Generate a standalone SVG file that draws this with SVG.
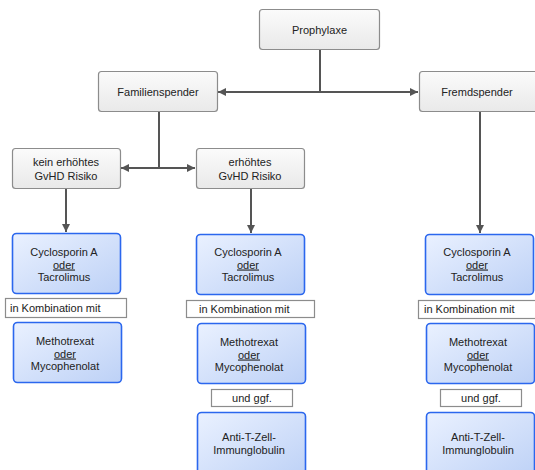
<svg xmlns="http://www.w3.org/2000/svg" width="535" height="470" viewBox="0 0 535 470">
<defs>
<linearGradient id="gGray" x1="0" y1="0" x2="0" y2="1">
<stop offset="0" stop-color="#fbfbfb"/>
<stop offset="1" stop-color="#e9e9e9"/>
</linearGradient>
<linearGradient id="gBlue" x1="0" y1="0" x2="1" y2="1">
<stop offset="0" stop-color="#eaf1ff"/>
<stop offset="1" stop-color="#bdd1f6"/>
</linearGradient>
<marker id="arr" viewBox="0 0 10 10" refX="10" refY="5" markerWidth="4" markerHeight="4.4" orient="auto" markerUnits="strokeWidth">
<path d="M0,0 L10,5 L0,10 Z" fill="#555"/>
</marker>
</defs>
<style>
.gray{fill:url(#gGray);stroke:#8c8c8c;stroke-width:1.2}
.blue{fill:url(#gBlue);stroke:#2b67ee;stroke-width:1.6}
.lab{fill:#fff;stroke:#8c8c8c;stroke-width:1.2}
text{font-family:"Liberation Sans",Arial,sans-serif;font-size:11px;fill:#222}
.c{text-anchor:middle}
.u{text-decoration:underline}
.con{stroke:#555;stroke-width:2;fill:none}
</style>
<g id="connectors">
<line class="con" x1="320" y1="49" x2="320" y2="92"/>
<line class="con" x1="320" y1="92" x2="218" y2="92" marker-end="url(#arr)"/>
<line class="con" x1="320" y1="92" x2="418" y2="92" marker-end="url(#arr)"/>
<line class="con" x1="159" y1="111" x2="159" y2="168"/>
<line class="con" x1="159" y1="168" x2="121" y2="168" marker-end="url(#arr)"/>
<line class="con" x1="159" y1="168" x2="195" y2="168" marker-end="url(#arr)"/>
<line class="con" x1="480" y1="111" x2="480" y2="233" marker-end="url(#arr)"/>
<line class="con" x1="66" y1="189" x2="66" y2="232" marker-end="url(#arr)"/>
<line class="con" x1="251" y1="189" x2="251" y2="233" marker-end="url(#arr)"/>
</g>
<g id="prophylaxe">
<rect class="gray" x="259.5" y="9.5" width="120" height="40" rx="3"/>
<text class="c" x="319.5" y="34">Prophylaxe</text>
</g>
<g id="familienspender">
<rect class="gray" x="98.5" y="71.5" width="119" height="40" rx="3"/>
<text class="c" x="158" y="96">Familienspender</text>
</g>
<g id="fremdspender">
<rect class="gray" x="419.5" y="71.5" width="120" height="40" rx="3"/>
<text class="c" x="477" y="96">Fremdspender</text>
</g>
<g id="kein-erhoehtes">
<rect class="gray" x="12.5" y="148.5" width="108" height="40" rx="3"/>
<text class="c" x="66" y="166">kein erhöhtes</text>
<text class="c" x="66" y="180">GvHD Risiko</text>
</g>
<g id="erhoehtes">
<rect class="gray" x="196.5" y="148.5" width="108" height="40" rx="3"/>
<text class="c" x="250" y="166">erhöhtes</text>
<text class="c" x="250" y="180">GvHD Risiko</text>
</g>
<g id="cyclo-left">
<rect class="blue" x="12.5" y="233.5" width="108" height="60" rx="4"/>
<text class="c" x="64" y="256">Cyclosporin A</text>
<text class="c u" x="64" y="268.5">oder</text>
<text class="c" x="64" y="281">Tacrolimus</text>
</g>
<g id="kombi-left">
<rect class="lab" x="5.5" y="298.5" width="121" height="19"/>
<text x="10" y="312">in Kombination mit</text>
</g>
<g id="metho-left">
<rect class="blue" x="13.5" y="322.5" width="108" height="60" rx="4"/>
<text class="c" x="65" y="345">Methotrexat</text>
<text class="c u" x="65" y="357.5">oder</text>
<text class="c" x="65" y="370">Mycophenolat</text>
</g>
<g id="cyclo-mid">
<rect class="blue" x="196.5" y="234.5" width="108" height="60" rx="4"/>
<text class="c" x="248" y="256">Cyclosporin A</text>
<text class="c u" x="248" y="268.5">oder</text>
<text class="c" x="248" y="281">Tacrolimus</text>
</g>
<g id="kombi-mid">
<rect class="lab" x="186.5" y="300.5" width="128" height="17"/>
<text x="199" y="313">in Kombination mit</text>
</g>
<g id="metho-mid">
<rect class="blue" x="197.5" y="323.5" width="108" height="60" rx="4"/>
<text class="c" x="249" y="346">Methotrexat</text>
<text class="c u" x="249" y="358.5">oder</text>
<text class="c" x="249" y="371">Mycophenolat</text>
</g>
<g id="undggf-mid">
<rect class="lab" x="211.5" y="389.5" width="81" height="17"/>
<text class="c" x="252" y="402">und ggf.</text>
</g>
<g id="anti-mid">
<rect class="blue" x="197.5" y="412.5" width="108" height="66" rx="4"/>
<text class="c" x="249" y="441">Anti-T-Zell-</text>
<text class="c" x="249" y="454">Immunglobulin</text>
</g>
<g id="cyclo-right">
<rect class="blue" x="425.5" y="234.5" width="108" height="60" rx="4"/>
<text class="c" x="477" y="256">Cyclosporin A</text>
<text class="c u" x="477" y="268.5">oder</text>
<text class="c" x="477" y="281">Tacrolimus</text>
</g>
<g id="kombi-right">
<rect class="lab" x="418.5" y="300.5" width="122" height="18"/>
<text x="424" y="313">in Kombination mit</text>
</g>
<g id="metho-right">
<rect class="blue" x="426.5" y="323.5" width="108" height="60" rx="4"/>
<text class="c" x="478" y="346">Methotrexat</text>
<text class="c u" x="478" y="358.5">oder</text>
<text class="c" x="478" y="371">Mycophenolat</text>
</g>
<g id="undggf-right">
<rect class="lab" x="440.5" y="389.5" width="81" height="17"/>
<text class="c" x="481" y="402">und ggf.</text>
</g>
<g id="anti-right">
<rect class="blue" x="426.5" y="412.5" width="108" height="66" rx="4"/>
<text class="c" x="478" y="441">Anti-T-Zell-</text>
<text class="c" x="478" y="454">Immunglobulin</text>
</g>
</svg>
